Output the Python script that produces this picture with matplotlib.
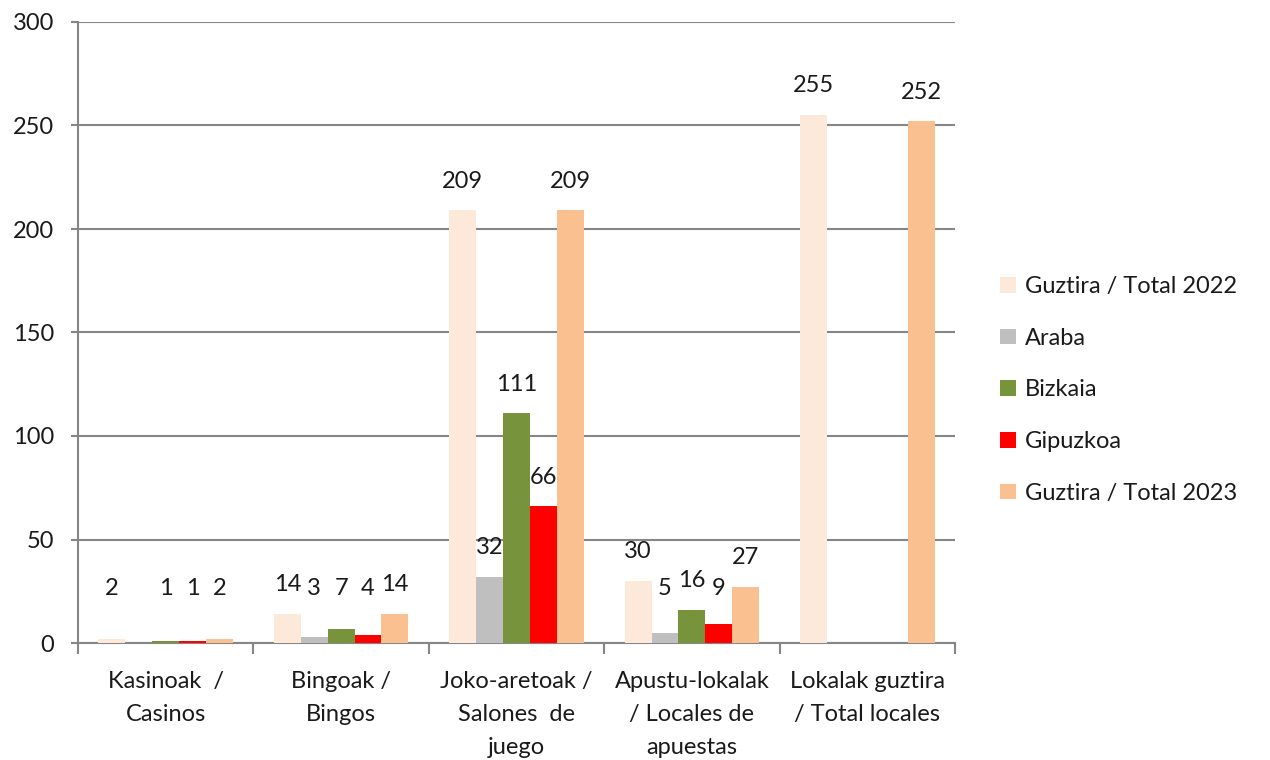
import matplotlib.pyplot as plt
import numpy as np

plt.rcParams["font.family"] = ["Lato", "DejaVu Sans"]

# =============================================================================
categories = [
    "Kasinoak  /\nCasinos",
    "Bingoak /\nBingos",
    "Joko-aretoak /\nSalones  de\njuego",
    "Apustu-lokalak\n/ Locales de\napuestas",
    "Lokalak guztira\n/ Total locales",
]
series_names = ["Guztira / Total 2022", "Araba", "Bizkaia", "Gipuzkoa",
                "Guztira / Total 2023"]
total_2022 = [2, 14, 209, 30, 255]
araba = [np.nan, 3, 32, 5, np.nan]
bizkaia = [1, 7, 111, 16, np.nan]
gipuzkoa = [1, 4, 66, 9, np.nan]
total_2023 = [2, 14, 209, 27, 252]
colors = ["#FDE9D9", "#BFBFBF", "#77933C", "#FF0000", "#FAC090"]
# =============================================================================

series = [total_2022, araba, bizkaia, gipuzkoa, total_2023]
fs = 17

fig = plt.figure(figsize=(12.7, 7.6), dpi=100)
ax = fig.add_axes([78 / 1270, 1 - 643 / 760, (955 - 78) / 1270, (643 - 22) / 760])

x = np.arange(len(categories))
width = 27 / 176
start = -2 * width

for k, (vals, name, col) in enumerate(zip(series, series_names, colors)):
    vals = np.array(vals, dtype=float)
    pos = x + start + k * width
    ax.bar(pos, vals, width=width, color=col, label=name, zorder=3)
    for p, v in zip(pos, vals):
        if np.isnan(v):
            continue
        ax.annotate(f"{int(v)}", (p, max(v, 12)), xytext=(0, 21),
                    textcoords="offset points", ha="center", va="center",
                    fontsize=fs, color="#1a1a1a")

ax.set_xlim(-0.5, len(categories) - 0.5)
ax.set_ylim(0, 300)
ax.set_yticks(np.arange(0, 301, 50))
ax.yaxis.grid(True, color="#868686", linewidth=1.5, zorder=0)
ax.set_axisbelow(True)

ax.set_xticks(np.arange(-0.5, len(categories)), minor=False)
ax.set_xticklabels([])
ax.set_xticks(x, minor=True)
ax.set_xticklabels(categories, minor=True, fontsize=fs, linespacing=1.7,
                   va="top", color="#1a1a1a")
ax.tick_params(axis="x", which="minor", length=0, pad=20)
ax.tick_params(axis="x", which="major", length=8, width=1.5, color="#868686")
ax.tick_params(axis="y", length=5, width=1.5, color="#868686", labelsize=fs,
               labelcolor="#1a1a1a", pad=12)

for side in ["top", "right"]:
    ax.spines[side].set_visible(False)
for side in ["left", "bottom"]:
    ax.spines[side].set_color("#868686")
    ax.spines[side].set_linewidth(1.5)

ax.legend(loc="center left", bbox_to_anchor=(0.771, 0.487),
          bbox_transform=fig.transFigure, frameon=False, fontsize=fs,
          handlelength=0.65, handleheight=0.65, handletextpad=0.4,
          labelspacing=1.3, labelcolor="#1a1a1a")

fig.savefig("out.png", dpi=100)
